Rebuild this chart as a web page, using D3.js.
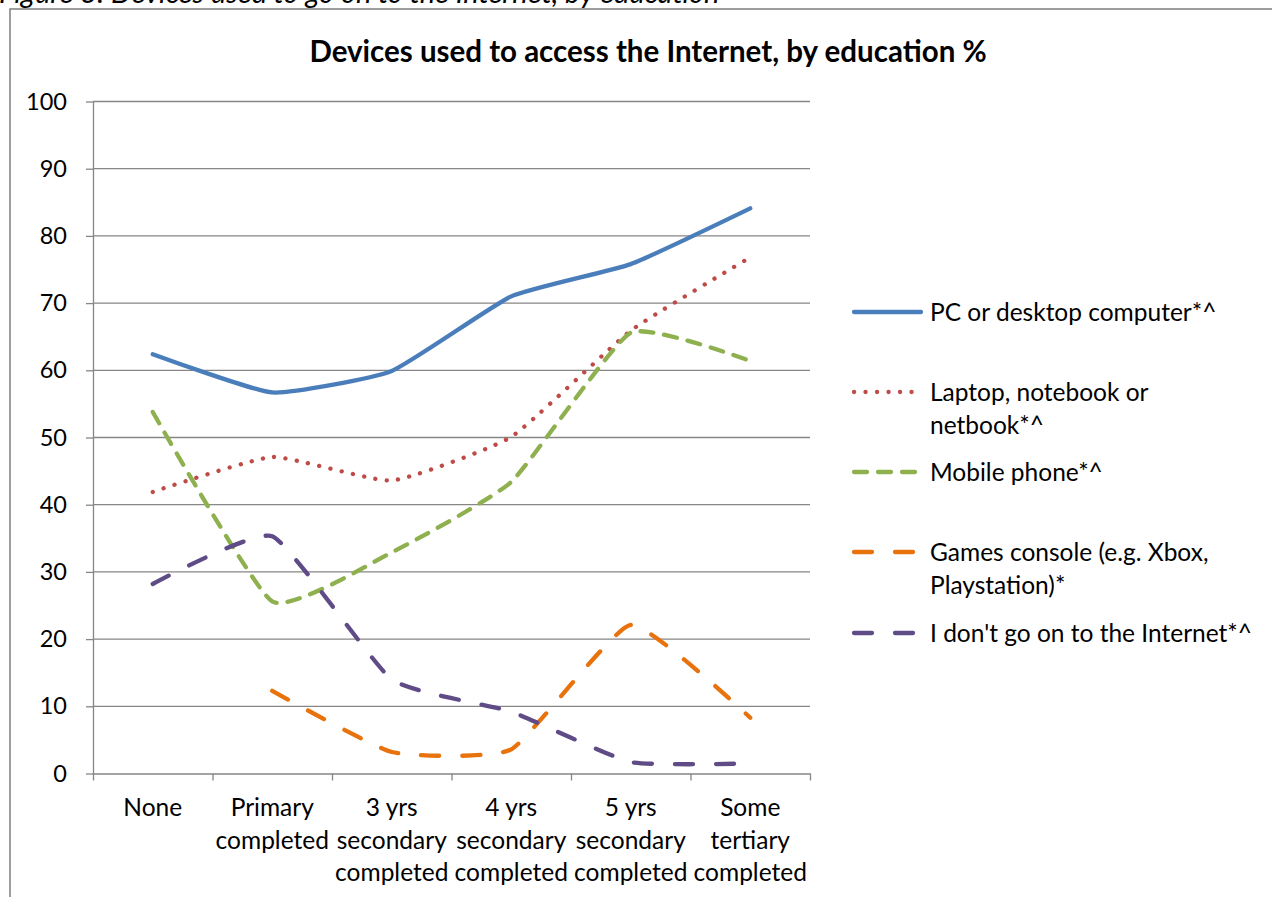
<!DOCTYPE html>
<html>
<head>
<meta charset="utf-8">
<script src="https://cdn.jsdelivr.net/npm/d3@7"></script>
<style>
  html, body { margin: 0; padding: 0; background: #fff; overflow: hidden; }
  svg { display: block; }
  text { font-family: Lato, "Open Sans", sans-serif; fill: #000; }
</style>
</head>
<body>
<script>
// Education levels (x categories), each label split into its display lines
const categories = [
  ["None"],
  ["Primary", "completed"],
  ["3 yrs", "secondary", "completed"],
  ["4 yrs", "secondary", "completed"],
  ["5 yrs", "secondary", "completed"],
  ["Some", "tertiary", "completed"]
];

// Share of respondents (%) using each device, per education level
const pcDesktop    = [62.4, 56.7, 59.9, 71.0, 75.8, 84.1];
const laptop       = [41.9, 47.1, 43.6, 50.1, 65.9, 76.8];
const mobilePhone  = [53.8, 25.6, 32.9, 43.4, 65.6, 61.4];
const gamesConsole = [null, 12.3, 3.2, 3.6, 22.1, 8.3];
const notOnline    = [28.2, 35.3, 14.0, 9.2, 1.7, 1.5];

const yTicks = [0, 10, 20, 30, 40, 50, 60, 70, 80, 90, 100];

const seriesNames = [
  ["PC or desktop computer*^"],
  ["Laptop, notebook or", "netbook*^"],
  ["Mobile phone*^"],
  ["Games console (e.g. Xbox,", "Playstation)*"],
  ["I don't go on to the Internet*^"]
];

const series = [
  { name: seriesNames[0], values: pcDesktop,    color: "#4A7EBB", dash: null },
  { name: seriesNames[1], values: laptop,       color: "#BE4B48", dash: "0.1 11.4" },
  { name: seriesNames[2], values: mobilePhone,  color: "#8EB04E", dash: "13 11" },
  { name: seriesNames[3], values: gamesConsole, color: "#E8720C", dash: "18 23" },
  { name: seriesNames[4], values: notOnline,    color: "#5F4B86", dash: "18 23" }
];

const W = 1272, H = 897;
const plot = { left: 93, right: 810, top: 101.5, bottom: 773.5 };
const gridColor = "#868686";
const labelSize = "24.5px";

const svg = d3.select("body").append("svg")
  .attr("width", W).attr("height", H);

// Figure caption, sitting above the chart frame
svg.append("text")
  .attr("x", -1).attr("y", 3)
  .style("font-style", "italic")
  .style("font-size", "29px")
  .text("Figure 3: Devices used to go on to the Internet, by education");

// Chart frame
svg.append("rect")
  .attr("x", 10).attr("y", 9)
  .attr("width", 1400).attr("height", 1000)
  .attr("fill", "none")
  .attr("stroke", gridColor)
  .attr("stroke-width", 1.6);

// Title
svg.append("text")
  .attr("x", 648).attr("y", 62)
  .attr("text-anchor", "middle")
  .style("font-weight", "bold")
  .style("font-size", "29.5px")
  .text("Devices used to access the Internet, by education %");

// Scales
const x = d3.scaleBand()
  .domain(d3.range(categories.length))
  .range([plot.left, plot.right])
  .paddingInner(0).paddingOuter(0);
const xc = i => x(i) + x.bandwidth() / 2;

const y = d3.scaleLinear().domain([0, 100]).range([plot.bottom, plot.top]);

// Horizontal gridlines
svg.append("g")
  .selectAll("line")
  .data(yTicks.filter(t => t > 0))
  .join("line")
  .attr("x1", plot.left).attr("x2", plot.right)
  .attr("y1", d => y(d)).attr("y2", d => y(d))
  .attr("stroke", gridColor).attr("stroke-width", 1.3);

// Y axis
const yAxis = svg.append("g")
  .attr("transform", `translate(${plot.left},0)`)
  .call(d3.axisLeft(y).tickValues(yTicks).tickSize(7).tickPadding(19).tickSizeOuter(0));
yAxis.select(".domain").attr("stroke", gridColor).attr("stroke-width", 1.3);
yAxis.selectAll(".tick line").attr("stroke", gridColor).attr("stroke-width", 1.3);
yAxis.selectAll(".tick text")
  .style("font-size", "23.5px")
  .style("font-family", "Lato, 'Open Sans', sans-serif")
  .attr("fill", "#000");

// X axis: ticks at category boundaries
const xEdges = d3.scaleLinear().domain([0, categories.length]).range([plot.left, plot.right]);
const xAxis = svg.append("g")
  .attr("transform", `translate(0,${plot.bottom})`)
  .call(d3.axisBottom(xEdges).tickValues(d3.range(categories.length + 1))
    .tickSize(7).tickSizeOuter(0).tickFormat(""));
xAxis.select(".domain").attr("stroke", gridColor).attr("stroke-width", 1.3);
xAxis.selectAll(".tick line").attr("stroke", gridColor).attr("stroke-width", 1.3);

// Category labels
const catLabels = svg.append("g")
  .selectAll("text")
  .data(categories)
  .join("text")
  .attr("text-anchor", "middle")
  .style("font-size", labelSize);
catLabels.each(function (lines, i) {
  d3.select(this).selectAll("tspan")
    .data(lines)
    .join("tspan")
    .attr("x", xc(i))
    .attr("y", (d, j) => 816 + j * 32.5)
    .text(d => d);
});

// Series lines
const line = d3.line()
  .defined(d => d != null)
  .x((d, i) => xc(i))
  .y(d => y(d))
  .curve(d3.curveCardinal.tension(0.55));

svg.append("g")
  .selectAll("path")
  .data(series)
  .join("path")
  .attr("d", s => line(s.values))
  .attr("fill", "none")
  .attr("stroke", s => s.color)
  .attr("stroke-width", 4.3)
  .attr("stroke-linecap", "round")
  .attr("stroke-linejoin", "round")
  .attr("stroke-dasharray", s => s.dash);

// Legend
const legendY = [312, 392, 472, 552, 633];
const legend = svg.append("g")
  .selectAll("g")
  .data(series)
  .join("g")
  .attr("transform", (s, i) => `translate(0,${legendY[i]})`);

legend.append("line")
  .attr("x1", 854).attr("x2", 921)
  .attr("y1", 0).attr("y2", 0)
  .attr("stroke", s => s.color)
  .attr("stroke-width", 4.3)
  .attr("stroke-linecap", "round")
  .attr("stroke-dasharray", s => s.dash);

legend.append("text")
  .style("font-size", labelSize)
  .each(function (s) {
    d3.select(this).selectAll("tspan")
      .data(s.name)
      .join("tspan")
      .attr("x", 930)
      .attr("y", (d, j) => 9 + j * 32.5)
      .text(d => d);
  });
</script>
</body>
</html>
